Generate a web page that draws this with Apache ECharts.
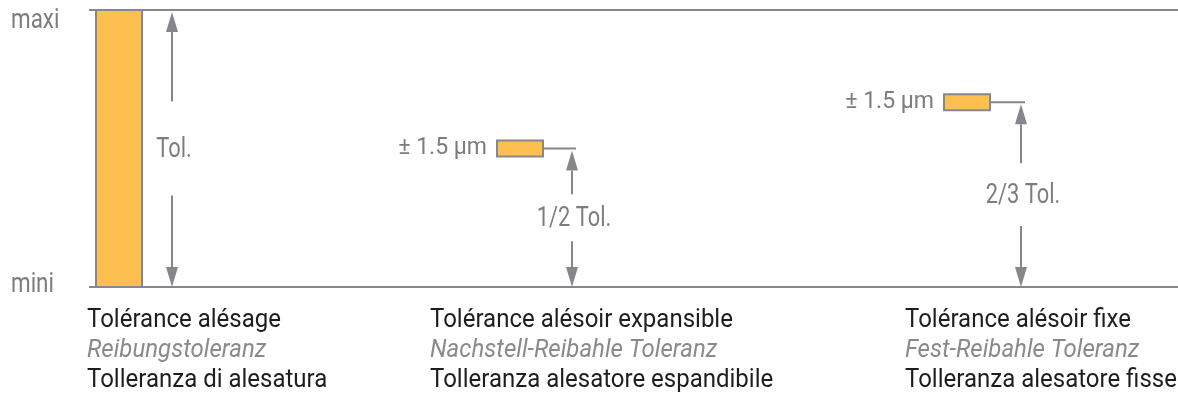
<!DOCTYPE html>
<html>
<head>
<meta charset="utf-8">
<script src="https://cdn.jsdelivr.net/npm/echarts@6/dist/echarts.min.js"></script>
<style>
  html, body { margin: 0; padding: 0; background: #fff; }
  #chart { width: 1178px; height: 396px; }
</style>
</head>
<body>
<div id="chart"></div>
<script>
  // données du schéma
  const yTicks = ['mini', 'maxi'];
  const tolFraction = [1, 1 / 2, 2 / 3];
  const tolLabels = ['Tol.', '1/2 Tol.', '2/3 Tol.'];
  const stepLabel = '± 1.5 µm';
  const labelsFR = ['Tolérance alésage', 'Tolérance alésoir expansible', 'Tolérance alésoir fixe'];
  const labelsDE = ['Reibungstoleranz', 'Nachstell-Reibahle Toleranz', 'Fest-Reibahle Toleranz'];
  const labelsIT = ['Tolleranza di alesatura', 'Tolleranza alesatore espandibile', 'Tolleranza alesatore fisse'];

  // mise en page (unités de l'axe x)
  const barLeft = [7, 408, 855];
  const barW = 46;
  const arrowX = [83, 483, 932];
  const textX = [-2, 341, 816];

  const FONT = "Roboto, sans-serif";
  const GRAY = '#86878a';
  const TXT_GRAY = '#7d7d7d';
  const ORANGE = '#fdbf50';

  function arrow(x, yFrom, yTip, dir) {
    // dir: -1 vers le haut, 1 vers le bas
    const headL = 20, headW = 6;
    return [
      { type: 'line', shape: { x1: x, y1: yFrom, x2: x, y2: yTip - dir * headL }, style: { stroke: GRAY, lineWidth: 2 } },
      { type: 'polygon', shape: { points: [[x, yTip], [x - headW, yTip - dir * headL], [x + headW, yTip - dir * headL]] }, style: { fill: GRAY } }
    ];
  }

  // texte étroit (police condensée simulée)
  function narrowText(x, y, text, size, sx, fill, align) {
    return { type: 'text', x: x, y: y, scaleX: sx,
      style: { text: text, fontFamily: FONT, fontSize: size, fill: fill, align: align, verticalAlign: 'middle' } };
  }

  const chart = echarts.init(document.getElementById('chart'));
  chart.setOption({
    animation: false,
    grid: { left: 89, right: 0, top: 10, bottom: 109 },
    xAxis: { type: 'value', min: 0, max: 1089, show: false },
    yAxis: {
      type: 'value', min: 0, max: 1, interval: 1,
      axisLine: { show: false }, axisTick: { show: false }, axisLabel: { show: false },
      splitLine: { show: true, lineStyle: { color: GRAY, width: 2 } }
    },
    series: [{
      type: 'custom',
      clip: false,
      data: tolFraction.map((t, i) => [i, t]),
      renderItem(params, api) {
        const i = api.value(0);
        const tol = api.value(1);
        const x0 = api.coord([barLeft[i], 0])[0];
        const x1 = api.coord([barLeft[i] + barW, 0])[0];
        const xa = api.coord([arrowX[i], 0])[0];
        const xt = api.coord([textX[i], 0])[0];
        const yMin = api.coord([0, 0])[1];
        const yMax = api.coord([0, 1])[1];
        const yT = api.coord([0, tol])[1];
        const children = [];
        if (i === 0) {
          // étiquettes mini / maxi
          children.push(narrowText(11, yMax + 11, yTicks[1], 27, 0.83, TXT_GRAY, 'left'));
          children.push(narrowText(11, yMin - 2, yTicks[0], 27, 0.83, TXT_GRAY, 'left'));
        }
        if (tol >= 1) {
          children.push({ type: 'rect', shape: { x: x0, y: yMax, width: x1 - x0, height: yMin - yMax },
            style: { fill: ORANGE, stroke: GRAY, lineWidth: 2 } });
        } else {
          children.push({ type: 'rect', shape: { x: x0, y: yT - 8, width: x1 - x0, height: 16 },
            style: { fill: ORANGE, stroke: GRAY, lineWidth: 2 } });
          children.push({ type: 'line', shape: { x1: x1, y1: yT, x2: xa + 4, y2: yT },
            style: { stroke: GRAY, lineWidth: 2 } });
          children.push(narrowText(x0 - 10, yT, stepLabel, 23, 1, TXT_GRAY, 'right'));
        }
        const span = yMin - yT;
        const yMid = (yMin + yT) / 2;
        const gap = span * 0.17;
        children.push(...arrow(xa, yMid - gap, yT + 2, -1));
        children.push(...arrow(xa, yMid + gap, yMin, 1));
        children.push(narrowText(xa + 2, yMid + 1, tolLabels[i], 28, 0.78, TXT_GRAY, 'center'));
        children.push({ type: 'text', x: xt, y: yMin + 19, scaleX: 0.96,
          style: {
            text: '{a|' + labelsFR[i] + '}\n{b|' + labelsDE[i] + '}\n{a|' + labelsIT[i] + '}',
            align: 'left', verticalAlign: 'top',
            rich: {
              a: { fontFamily: FONT, fontSize: 25, fill: '#1e1e1e', lineHeight: 30 },
              b: { fontFamily: FONT, fontSize: 25, fill: '#8a8a8a', fontStyle: 'italic', lineHeight: 30 }
            }
          } });
        return { type: 'group', children };
      }
    }]
  });
</script>
</body>
</html>
